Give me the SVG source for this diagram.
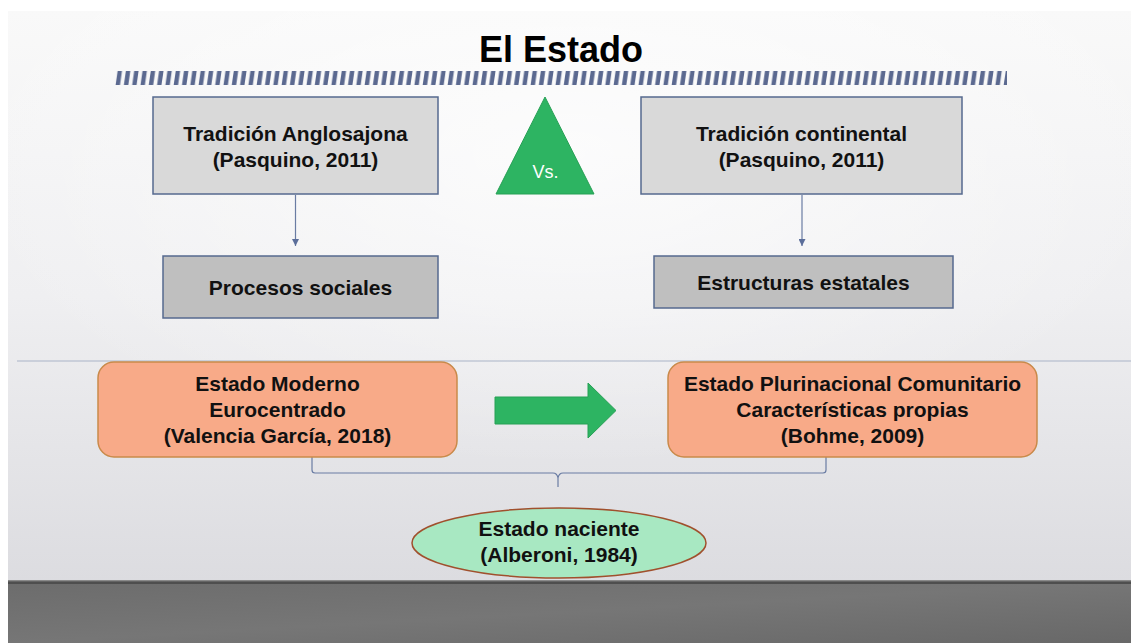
<svg xmlns="http://www.w3.org/2000/svg" width="1131" height="643" viewBox="0 0 1131 643">
  <defs>
    <linearGradient id="bg" x1="0" y1="0" x2="0" y2="1">
      <stop offset="0" stop-color="#f9f9f9"/>
      <stop offset="0.5" stop-color="#efeff1"/>
      <stop offset="1" stop-color="#dcdce0"/>
    </linearGradient>
    <radialGradient id="glow" cx="0.5" cy="0.25" r="0.55">
      <stop offset="0" stop-color="#ffffff" stop-opacity="0.7"/>
      <stop offset="1" stop-color="#ffffff" stop-opacity="0"/>
    </radialGradient>
    <linearGradient id="floor" x1="0" y1="0" x2="1" y2="1">
      <stop offset="0" stop-color="#6c6c6c"/>
      <stop offset="0.5" stop-color="#767676"/>
      <stop offset="1" stop-color="#686868"/>
    </linearGradient>
    <pattern id="stripes" x="115" y="71" width="8.3" height="14" patternUnits="userSpaceOnUse">
      <polygon points="2.6,0 7,0 5,14 0.6,14" fill="#5b6990"/>
    </pattern>
    <marker id="arr" viewBox="0 0 8 8" refX="8" refY="4" markerWidth="7" markerHeight="7" orient="auto" markerUnits="userSpaceOnUse">
      <path d="M0,0 L8,4 L0,8 Z" fill="#5b6e9a"/>
    </marker>
    <style>
      .t{font-family:"Liberation Sans",Arial,sans-serif;font-weight:bold;font-size:21px;fill:#111;text-anchor:middle}
      .box1{fill:#d9d9d9;stroke:#56698f;stroke-width:1.5}
      .box2{fill:#bfbfbf;stroke:#56698f;stroke-width:1.5}
      .orange{fill:#f8aa88;stroke:#c98a4a;stroke-width:1.5}
      .conn{fill:none;stroke:#6a7ca3;stroke-width:1.2}
    </style>
  </defs>

  <rect width="1131" height="643" fill="#ffffff"/>
  <rect x="8" y="11" width="1123" height="570" fill="url(#bg)"/>
  <rect x="8" y="11" width="1123" height="570" fill="url(#glow)"/>
  <rect x="8" y="581" width="1123" height="62" fill="url(#floor)"/>
  <rect x="8" y="580" width="1123" height="1.5" fill="#8a8a8a"/>
  <rect x="8" y="581.5" width="1123" height="2.5" fill="#4e4e4e"/>

  <g id="title">
    <text x="561" y="62" style="font-family:'Liberation Sans',Arial,sans-serif;font-weight:bold;font-size:36px;fill:#000;text-anchor:middle">El Estado</text>
    <rect x="115" y="71" width="892" height="14" fill="url(#stripes)"/>
  </g>

  <line x1="17" y1="361" x2="1131" y2="361" stroke="#a9b3c8" stroke-width="1.2"/>

  <g id="connectors">
    <line class="conn" x1="295.5" y1="195" x2="295.5" y2="246" marker-end="url(#arr)"/>
    <line class="conn" x1="802" y1="195" x2="802" y2="246" marker-end="url(#arr)"/>
    <path class="conn" d="M312,457 V470 Q312,473 315,473 H553 Q557,473 558,478 Q559,473 563,473 H823 Q826,473 826,470 V457 M558,478 V487"/>
  </g>

  <g id="tradicion-anglosajona">
    <rect class="box1" x="153" y="97" width="285" height="97"/>
    <text class="t" x="295.5" y="141">Tradición Anglosajona</text>
    <text class="t" x="295.5" y="167">(Pasquino, 2011)</text>
  </g>

  <g id="vs">
    <polygon points="545,97 594,194 496,194" fill="#2db462" stroke="#27a055" stroke-width="1"/>
    <text x="545.5" y="178" style="font-family:'Liberation Sans',Arial,sans-serif;font-size:18px;fill:#ffffff;text-anchor:middle">Vs.</text>
  </g>

  <g id="tradicion-continental">
    <rect class="box1" x="641" y="97" width="321" height="97"/>
    <text class="t" x="801.5" y="141">Tradición continental</text>
    <text class="t" x="801.5" y="167">(Pasquino, 2011)</text>
  </g>

  <g id="procesos-sociales">
    <rect class="box2" x="163" y="256" width="275" height="62"/>
    <text class="t" x="300.5" y="295">Procesos sociales</text>
  </g>

  <g id="estructuras-estatales">
    <rect class="box2" x="654" y="256" width="299" height="52"/>
    <text class="t" x="803.5" y="290">Estructuras estatales</text>
  </g>

  <g id="estado-moderno">
    <rect class="orange" x="98" y="362" width="359" height="95" rx="16"/>
    <text class="t" x="277.5" y="391">Estado Moderno</text>
    <text class="t" x="277.5" y="417">Eurocentrado</text>
    <text class="t" x="277.5" y="443">(Valencia García, 2018)</text>
  </g>

  <g id="flecha">
    <polygon points="495,397 588,397 588,383 616,410.5 588,438 588,424 495,424" fill="#2db462" stroke="#27a055" stroke-width="1"/>
  </g>

  <g id="estado-plurinacional">
    <rect class="orange" x="668" y="362" width="369" height="95" rx="16"/>
    <text class="t" x="852.5" y="391">Estado Plurinacional Comunitario</text>
    <text class="t" x="852.5" y="417">Características propias</text>
    <text class="t" x="852.5" y="443">(Bohme, 2009)</text>
  </g>

  <g id="estado-naciente">
    <ellipse cx="559" cy="543" rx="147" ry="35" fill="#a8e8c2" stroke="#a0502d" stroke-width="1.5"/>
    <text class="t" x="559" y="536">Estado naciente</text>
    <text class="t" x="559" y="562">(Alberoni, 1984)</text>
  </g>
</svg>
